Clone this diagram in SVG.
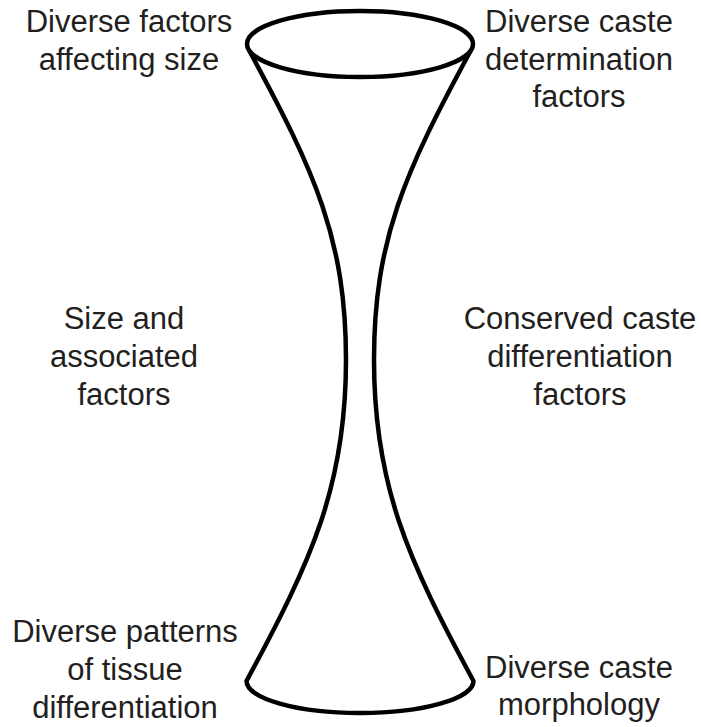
<svg xmlns="http://www.w3.org/2000/svg" width="701" height="727" viewBox="0 0 701 727">
<style>
.lbl{font-family:"Liberation Sans",Arial,sans-serif;font-size:31px;fill:#231f20;text-anchor:middle}
.vase{fill:none;stroke:#000;stroke-width:4.5;stroke-linejoin:round;stroke-linecap:round}
</style>
<rect width="701" height="727" fill="#fff"/>
<g id="vase">
<ellipse class="vase" cx="360" cy="44" rx="113" ry="33"/>
<path class="vase" d="M250 52 C315 172 346 240 346 360 C346 485 312 560 246.5 681 A113.5 32 0 0 0 473.5 681 C408 560 374 485 374 360 C374 240 405 172 470 52"/>
</g>
<g id="label-top-left"><text class="lbl" x="129" y="32">Diverse factors</text><text class="lbl" x="129" y="70">affecting size</text></g>
<g id="label-top-right"><text class="lbl" x="579" y="32">Diverse caste</text><text class="lbl" x="579" y="70">determination</text><text class="lbl" x="579" y="107">factors</text></g>
<g id="label-mid-left"><text class="lbl" x="124" y="329">Size and</text><text class="lbl" x="124" y="367">associated</text><text class="lbl" x="124" y="405">factors</text></g>
<g id="label-mid-right"><text class="lbl" x="580" y="329">Conserved caste</text><text class="lbl" x="580" y="367">differentiation</text><text class="lbl" x="580" y="405">factors</text></g>
<g id="label-bottom-left"><text class="lbl" x="125" y="642">Diverse patterns</text><text class="lbl" x="125" y="680">of tissue</text><text class="lbl" x="125" y="718">differentiation</text></g>
<g id="label-bottom-right"><text class="lbl" x="579" y="678">Diverse caste</text><text class="lbl" x="579" y="715">morphology</text></g>
</svg>
